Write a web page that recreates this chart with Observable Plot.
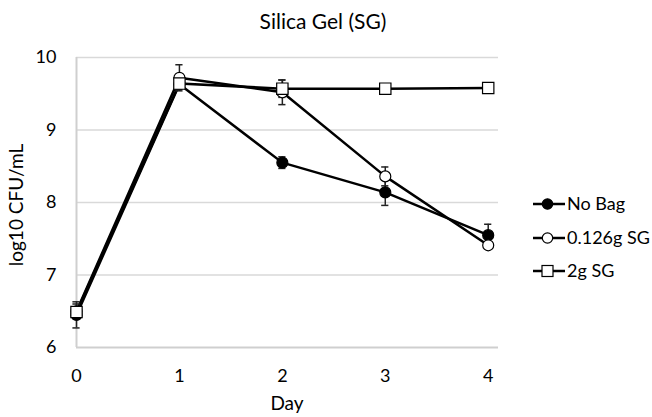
<!DOCTYPE html>
<html><head><meta charset="utf-8">
<script src="https://cdn.jsdelivr.net/npm/d3@7"></script>
<script src="https://cdn.jsdelivr.net/npm/@observablehq/plot@0.6"></script>
<style>
body{margin:0;background:#fff;}
#chart{position:relative;width:652px;height:417px;}
</style></head>
<body><div id="chart"></div>
<script>
const days = [0, 1, 2, 3, 4];
const seriesNames = ["No Bag", "0.126g SG", "2g SG"];
const noBag = [6.45, 9.63, 8.55, 8.14, 7.55];
const noBagErr = [0.18, 0.05, 0.08, 0.18, 0.15];
const sg126 = [6.50, 9.72, 9.52, 8.36, 7.41];
const sg126Err = [0.10, 0.18, 0.17, 0.13, 0.05];
const sg2 = [6.49, 9.64, 9.57, 9.57, 9.58];
const sg2Err = [0.05, 0.05, 0.12, 0.02, 0.02];
const yTicks = [6, 7, 8, 9, 10];
const xTicks = [0, 1, 2, 3, 4];

const vals = [noBag, sg126, sg2];
const errs = [noBagErr, sg126Err, sg2Err];
const data = [];
seriesNames.forEach((s, i) => days.forEach((d, j) => data.push({series: s, day: d, v: vals[i][j], e: errs[i][j]})));
const of = s => data.filter(d => d.series === s);
const font = "Lato, 'Open Sans', sans-serif";

const plot = Plot.plot({
  width: 652, height: 417,
  marginLeft: 76, marginRight: 154, marginTop: 57, marginBottom: 70,
  style: {fontFamily: font, fontSize: "18px", color: "#000", background: "#fff"},
  x: {domain: [0, 4.1], ticks: xTicks, tickFormat: "d", tickSize: 0, tickPadding: 22, label: null},
  y: {domain: [6, 10], ticks: yTicks, tickFormat: "d", tickSize: 0, tickPadding: 20, label: null},
  marks: [
    Plot.ruleY(yTicks.slice(1), {stroke: "#d9d9d9", strokeWidth: 1.5}),
    Plot.ruleY([6], {stroke: "#cfcfcf", strokeWidth: 2}),
    Plot.ruleX([0], {stroke: "#cfcfcf", strokeWidth: 2}),
    ...seriesNames.map(s => Plot.line(of(s), {x: "day", y: "v", stroke: "#000", strokeWidth: 2.5})),
    ...seriesNames.map(s => Plot.ruleX(of(s), {x: "day", y1: d => d.v - d.e, y2: d => d.v + d.e, stroke: "#222", strokeWidth: 1.5})),
    ...seriesNames.map(s => Plot.ruleY(of(s), {y: d => d.v + d.e, x1: d => d.day - 0.035, x2: d => d.day + 0.035, stroke: "#222", strokeWidth: 1.5})),
    ...seriesNames.map(s => Plot.ruleY(of(s), {y: d => d.v - d.e, x1: d => d.day - 0.035, x2: d => d.day + 0.035, stroke: "#222", strokeWidth: 1.5})),
    Plot.dot(of("No Bag"), {x: "day", y: "v", r: 5.5, fill: "#000", stroke: "#000", strokeWidth: 1.2}),
    Plot.dot(of("0.126g SG"), {x: "day", y: "v", r: 5.5, fill: "#fff", stroke: "#000", strokeWidth: 1.2}),
    Plot.dot(of("2g SG"), {x: "day", y: "v", r: 6.4, symbol: "square", fill: "#fff", stroke: "#000", strokeWidth: 1.2})
  ]
});
document.getElementById("chart").appendChild(plot);

const svg = d3.select(plot);
const addText = (x, y, str, size, anchor, transform) => {
  const t = svg.append("text").attr("text-anchor", anchor)
    .style("font-family", font).style("font-size", size + "px").attr("fill", "#000").text(str);
  if (transform) t.attr("transform", transform); else t.attr("x", x).attr("y", y);
  return t;
};
addText(323, 29, "Silica Gel (SG)", 21, "middle");
addText(287, 410, "Day", 19, "middle");
addText(0, 0, "log10 CFU/mL", 19, "middle", "translate(23,205) rotate(-90)");

const legY = [204, 238, 271];
seriesNames.forEach((s, i) => {
  const g = svg.append("g").attr("transform", `translate(0,${legY[i]})`);
  g.append("line").attr("x1", 533).attr("x2", 565).attr("y1", 0).attr("y2", 0).attr("stroke", "#000").attr("stroke-width", 2.5);
  if (i === 2) {
    g.append("rect").attr("x", 542).attr("y", -5.5).attr("width", 11).attr("height", 11).attr("fill", "#fff").attr("stroke", "#000").attr("stroke-width", 1.2);
  } else {
    g.append("circle").attr("cx", 547.5).attr("cy", 0).attr("r", 5.2).attr("fill", i === 0 ? "#000" : "#fff").attr("stroke", "#000").attr("stroke-width", 1.2);
  }
  g.append("text").attr("x", 567).attr("y", 0).attr("dy", "0.36em").attr("text-anchor", "start")
    .style("font-family", font).style("font-size", "18px").attr("fill", "#000").text(s);
});
</script></body></html>
